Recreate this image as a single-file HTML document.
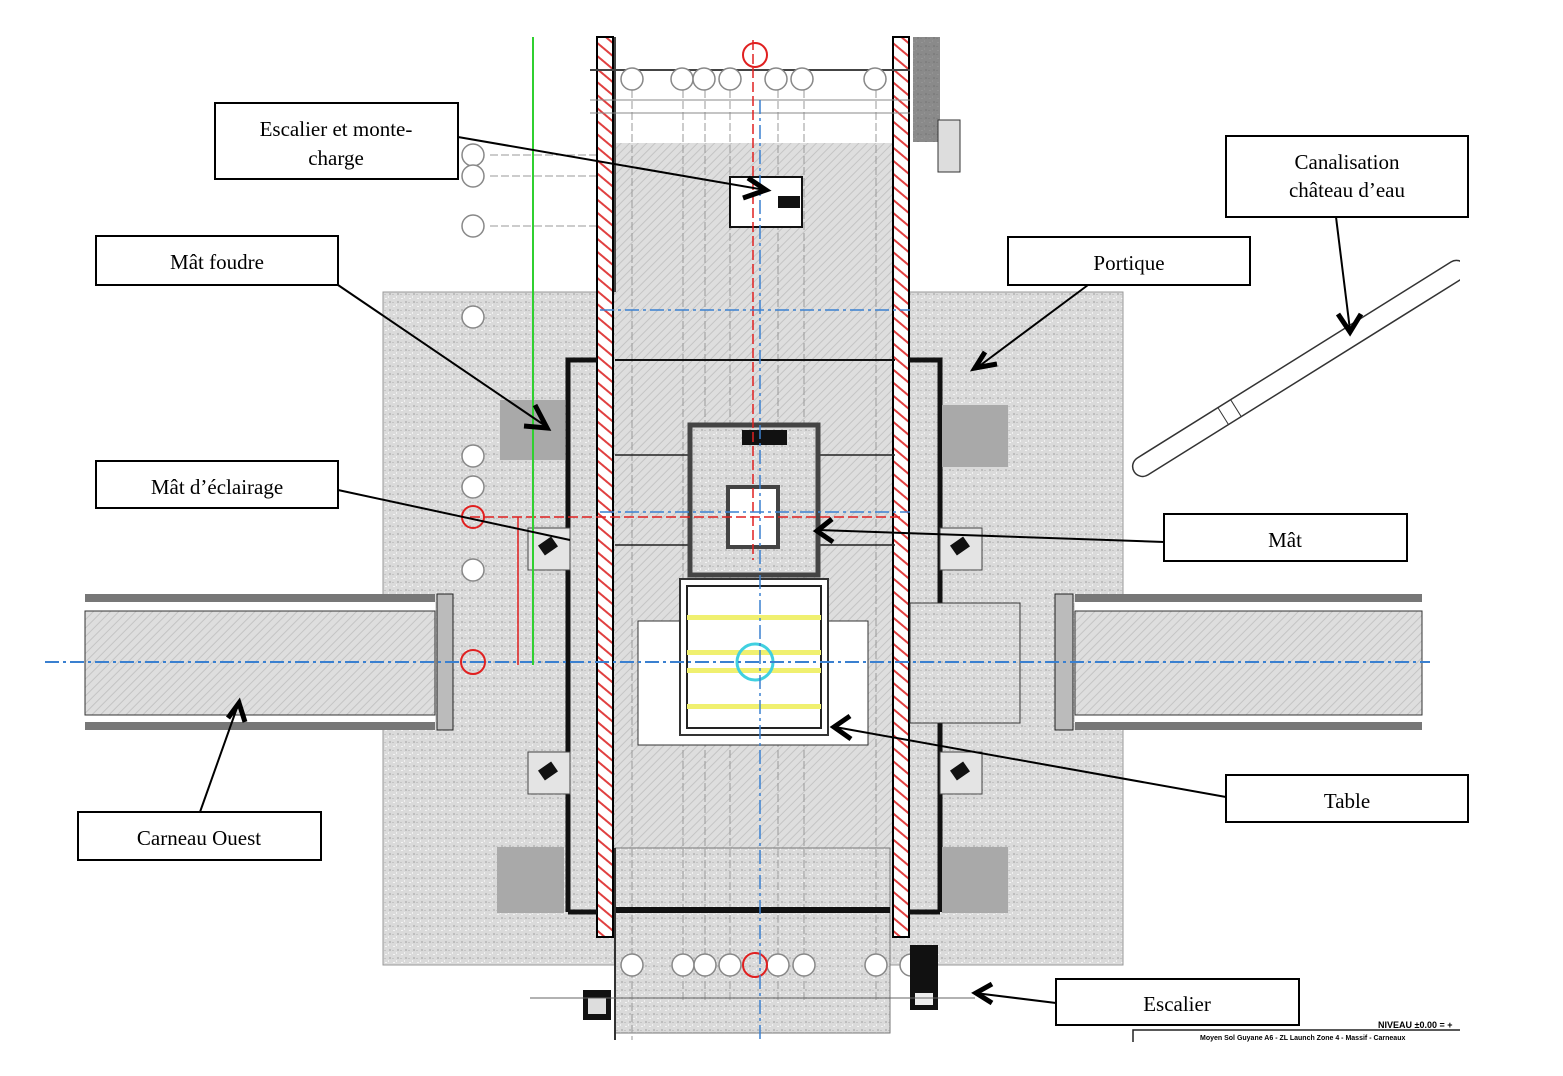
<!DOCTYPE html>
<html><head><meta charset="utf-8"><style>
html,body{margin:0;padding:0;background:#fff;}
svg{display:block;}
.lbl{font-family:"Liberation Serif",serif;font-size:21px;fill:#000;}
</style></head><body>
<svg width="1563" height="1076" viewBox="0 0 1563 1076" xmlns="http://www.w3.org/2000/svg">
<defs>
<pattern id="hatch" width="6" height="6" patternUnits="userSpaceOnUse" patternTransform="rotate(45)">
<rect width="6" height="6" fill="#dedede"/><line x1="0" y1="0" x2="0" y2="6" stroke="#c4c4c4" stroke-width="2"/>
</pattern>
<pattern id="speck" width="8" height="8" patternUnits="userSpaceOnUse">
<rect width="8" height="8" fill="#dadada"/><rect x="1" y="2" width="2" height="1" fill="#f4f4f4"/><rect x="5" y="5" width="2" height="2" fill="#bdbdbd"/><rect x="4" y="0" width="1" height="2" fill="#f0f0f0"/><rect x="0" y="6" width="2" height="1" fill="#c4c4c4"/>
</pattern>
<pattern id="red" width="10" height="10" patternUnits="userSpaceOnUse" patternTransform="rotate(-50)">
<rect width="10" height="10" fill="#fff"/><line x1="0" y1="0" x2="0" y2="10" stroke="#e04040" stroke-width="4"/>
</pattern>
</defs>
<rect x="383" y="292" width="740" height="673" fill="url(#speck)" stroke="#999"/>
<rect x="590" y="37" width="325" height="110" fill="#fff"/>
<rect x="913" y="37" width="27" height="105" fill="#555"/>
<rect x="913" y="37" width="27" height="105" fill="url(#speck)" opacity="0.4"/>
<rect x="938" y="120" width="22" height="52" fill="#ddd" stroke="#333"/>
<rect x="615" y="143" width="280" height="705" fill="url(#hatch)"/>
<rect x="615" y="848" width="275" height="185" fill="url(#speck)" stroke="#777"/>
<g stroke="#999" stroke-width="1" stroke-dasharray="8,3">
<line x1="632" y1="90" x2="632" y2="1040"/><line x1="683" y1="90" x2="683" y2="1000"/><line x1="705" y1="90" x2="705" y2="1000"/><line x1="730" y1="90" x2="730" y2="1000"/><line x1="778" y1="90" x2="778" y2="1000"/><line x1="804" y1="90" x2="804" y2="1000"/><line x1="876" y1="90" x2="876" y2="1000"/>
<line x1="490" y1="155" x2="600" y2="155"/><line x1="490" y1="176" x2="600" y2="176"/><line x1="490" y1="226" x2="600" y2="226"/>
</g>
<rect x="615" y="907" width="275" height="6" fill="#111"/>
<line x1="615" y1="848" x2="615" y2="1040" stroke="#333" stroke-width="2"/>
<line x1="615" y1="292" x2="615" y2="37" stroke="#444" stroke-width="2"/>
<line x1="895" y1="292" x2="895" y2="37" stroke="#444" stroke-width="2"/>
<rect x="597" y="37" width="16" height="900" fill="url(#red)" stroke="#000" stroke-width="2"/>
<rect x="893" y="37" width="16" height="900" fill="url(#red)" stroke="#000" stroke-width="2"/>
<line x1="590" y1="70" x2="910" y2="70" stroke="#444" stroke-width="2"/>
<line x1="590" y1="100" x2="910" y2="100" stroke="#888"/>
<line x1="590" y1="113" x2="910" y2="113" stroke="#888"/>
<g fill="#fff" stroke="#888" stroke-width="1.5">
<circle cx="632" cy="79" r="11"/><circle cx="682" cy="79" r="11"/><circle cx="704" cy="79" r="11"/><circle cx="730" cy="79" r="11"/><circle cx="776" cy="79" r="11"/><circle cx="802" cy="79" r="11"/><circle cx="875" cy="79" r="11"/>
<circle cx="473" cy="155" r="11"/><circle cx="473" cy="176" r="11"/><circle cx="473" cy="226" r="11"/><circle cx="473" cy="317" r="11"/><circle cx="473" cy="456" r="11"/><circle cx="473" cy="487" r="11"/><circle cx="473" cy="570" r="11"/>
<circle cx="632" cy="965" r="11"/><circle cx="683" cy="965" r="11"/><circle cx="705" cy="965" r="11"/><circle cx="730" cy="965" r="11"/><circle cx="778" cy="965" r="11"/><circle cx="804" cy="965" r="11"/><circle cx="876" cy="965" r="11"/><circle cx="911" cy="965" r="11"/>
</g>
<circle cx="755" cy="55" r="12" fill="none" stroke="#e02020" stroke-width="2"/>
<circle cx="755" cy="965" r="12" fill="none" stroke="#e02020" stroke-width="2"/>
<circle cx="473" cy="517" r="11" fill="none" stroke="#e02020" stroke-width="2"/>
<circle cx="473" cy="662" r="12" fill="none" stroke="#e02020" stroke-width="2"/>
<path d="M568 912 V360 H597 M909 360 H940 V912 M568 912 H597 M909 912 H940" fill="none" stroke="#111" stroke-width="5"/>
<line x1="615" y1="360" x2="895" y2="360" stroke="#111" stroke-width="2"/>
<line x1="615" y1="455" x2="895" y2="455" stroke="#222" stroke-width="1.5"/>
<line x1="615" y1="545" x2="895" y2="545" stroke="#222" stroke-width="1.5"/>
<rect x="730" y="177" width="72" height="50" fill="#fff" stroke="#111" stroke-width="2"/>
<rect x="778" y="196" width="22" height="12" fill="#111"/>
<rect x="690" y="425" width="128" height="150" fill="url(#speck)" stroke="#444" stroke-width="5"/>
<rect x="742" y="430" width="45" height="15" fill="#111"/>
<rect x="728" y="487" width="50" height="60" fill="#fff" stroke="#444" stroke-width="4"/>
<rect x="638" y="621" width="230" height="124" fill="#fff" stroke="#333"/>
<rect x="680" y="579" width="148" height="156" fill="#fff" stroke="#333" stroke-width="2"/>
<rect x="687" y="586" width="134" height="142" fill="#fff" stroke="#222" stroke-width="2"/>
<g fill="#f0f070"><rect x="687" y="615" width="134" height="5"/><rect x="687" y="650" width="134" height="5"/><rect x="687" y="668" width="134" height="5"/><rect x="687" y="704" width="134" height="5"/></g>
<circle cx="755" cy="662" r="18" fill="none" stroke="#40d0e0" stroke-width="3"/>
<rect x="500" y="400" width="65" height="60" fill="#a9a9a9"/>
<rect x="942" y="405" width="66" height="62" fill="#a9a9a9"/>
<rect x="497" y="847" width="67" height="66" fill="#a9a9a9"/>
<rect x="942" y="847" width="66" height="66" fill="#a9a9a9"/>
<rect x="528" y="528" width="42" height="42" fill="#e4e4e4" stroke="#444"/>
<rect x="940" y="528" width="42" height="42" fill="#e4e4e4" stroke="#444"/>
<rect x="528" y="752" width="42" height="42" fill="#e4e4e4" stroke="#444"/>
<rect x="940" y="752" width="42" height="42" fill="#e4e4e4" stroke="#444"/>
<rect x="540" y="540" width="16" height="12" fill="#111" transform="rotate(-35 548 546)"/>
<rect x="952" y="540" width="16" height="12" fill="#111" transform="rotate(-35 960 546)"/>
<rect x="540" y="765" width="16" height="12" fill="#111" transform="rotate(-35 548 771)"/>
<rect x="952" y="765" width="16" height="12" fill="#111" transform="rotate(-35 960 771)"/>
<g>
<rect x="85" y="594" width="350" height="136" fill="#fff"/>
<rect x="85" y="594" width="350" height="8" fill="#777"/>
<rect x="85" y="611" width="350" height="104" fill="url(#hatch)" stroke="#333"/>
<rect x="85" y="722" width="350" height="8" fill="#777"/>
<rect x="437" y="594" width="16" height="136" fill="#bbb" stroke="#222"/>
<rect x="1075" y="594" width="347" height="136" fill="#fff"/>
<rect x="1075" y="594" width="347" height="8" fill="#777"/>
<rect x="1075" y="611" width="347" height="104" fill="url(#hatch)" stroke="#333"/>
<rect x="1075" y="722" width="347" height="8" fill="#777"/>
<rect x="1055" y="594" width="18" height="136" fill="#bbb" stroke="#222"/>
<rect x="910" y="603" width="110" height="120" fill="url(#speck)" stroke="#333"/>
</g>
<rect x="583" y="990" width="28" height="30" fill="#111"/><rect x="588" y="998" width="18" height="16" fill="#ddd"/>
<rect x="910" y="945" width="28" height="65" fill="#111"/><rect x="915" y="993" width="18" height="12" fill="#eee"/>
<line x1="530" y1="998" x2="975" y2="998" stroke="#666"/>
<line x1="45" y1="662" x2="1430" y2="662" stroke="#3a80d0" stroke-width="2" stroke-dasharray="14,4,3,4"/>
<line x1="760" y1="100" x2="760" y2="1040" stroke="#3a80d0" stroke-width="1.5" stroke-dasharray="14,4,3,4"/>
<line x1="753" y1="40" x2="753" y2="560" stroke="#e02020" stroke-width="1.5" stroke-dasharray="10,4"/>
<line x1="470" y1="517" x2="900" y2="517" stroke="#e02020" stroke-width="1.5" stroke-dasharray="10,4"/>
<line x1="518" y1="517" x2="518" y2="665" stroke="#e02020" stroke-width="1.5"/>
<line x1="600" y1="310" x2="910" y2="310" stroke="#3a80d0" stroke-width="1.5" stroke-dasharray="14,4,3,4"/>
<line x1="600" y1="512" x2="910" y2="512" stroke="#3a80d0" stroke-width="1.5" stroke-dasharray="14,4,3,4"/>
<line x1="533" y1="37" x2="533" y2="665" stroke="#30d030" stroke-width="2"/>
<g transform="rotate(-32 1297 370)">
<rect x="1105" y="360" width="390" height="20" rx="10" fill="#fff" stroke="#333" stroke-width="1.5"/>
<line x1="1210" y1="360" x2="1210" y2="380" stroke="#333"/><line x1="1225" y1="360" x2="1225" y2="380" stroke="#333"/>
</g>
<rect x="1460" y="250" width="103" height="200" fill="#fff"/>
<text x="1378" y="1028" font-family="Liberation Sans,sans-serif" font-size="9" font-weight="bold">NIVEAU ±0.00 = +</text>
<text x="1200" y="1040" font-family="Liberation Sans,sans-serif" font-size="7" font-weight="bold">Moyen Sol Guyane A6 - ZL Launch Zone 4 - Massif - Carneaux</text>
<path d="M1133 1042 V1030 H1460" fill="none" stroke="#222" stroke-width="1.5"/>
<g stroke="#000" stroke-width="2" fill="none">
<line x1="458" y1="137" x2="765" y2="190"/>
<line x1="338" y1="285" x2="547" y2="427"/>
<line x1="338" y1="490" x2="570" y2="540"/>
<line x1="200" y1="812" x2="238" y2="705"/>
<line x1="1336" y1="217" x2="1350" y2="330"/>
<line x1="1088" y1="285" x2="978" y2="367"/>
<line x1="1164" y1="542" x2="818" y2="530"/>
<line x1="1226" y1="797" x2="835" y2="727"/>
<line x1="1056" y1="1003" x2="975" y2="993"/>
</g>
<g stroke="#000" stroke-width="5" fill="none" stroke-linejoin="miter">
<polyline points="748,178 766,190 743,198"/>
<polyline points="535,405 547,428 524,426"/>
<polyline points="228,718 239,703 245,722"/>
<polyline points="1338,314 1350,332 1361,314"/>
<polyline points="985,352 975,368 997,364"/>
<polyline points="832,519 817,531 833,542"/>
<polyline points="850,716 834,727 851,739"/>
<polyline points="992,984 976,993 992,1003"/>
</g>
<g fill="#fff" stroke="#000" stroke-width="2">
<rect x="215" y="103" width="243" height="76"/>
<rect x="96" y="236" width="242" height="49"/>
<rect x="96" y="461" width="242" height="47"/>
<rect x="78" y="812" width="243" height="48"/>
<rect x="1226" y="136" width="242" height="81"/>
<rect x="1008" y="237" width="242" height="48"/>
<rect x="1164" y="514" width="243" height="47"/>
<rect x="1226" y="775" width="242" height="47"/>
<rect x="1056" y="979" width="243" height="46"/>
</g>
<g class="lbl" text-anchor="middle">
<text x="336" y="136">Escalier et monte-</text>
<text x="336" y="165">charge</text>
<text x="217" y="269">Mât foudre</text>
<text x="217" y="494">Mât d’éclairage</text>
<text x="199" y="845">Carneau Ouest</text>
<text x="1347" y="169">Canalisation</text>
<text x="1347" y="197">château d’eau</text>
<text x="1129" y="270">Portique</text>
<text x="1285" y="547">Mât</text>
<text x="1347" y="808">Table</text>
<text x="1177" y="1011">Escalier</text>
</g>
</svg>
</body></html>
